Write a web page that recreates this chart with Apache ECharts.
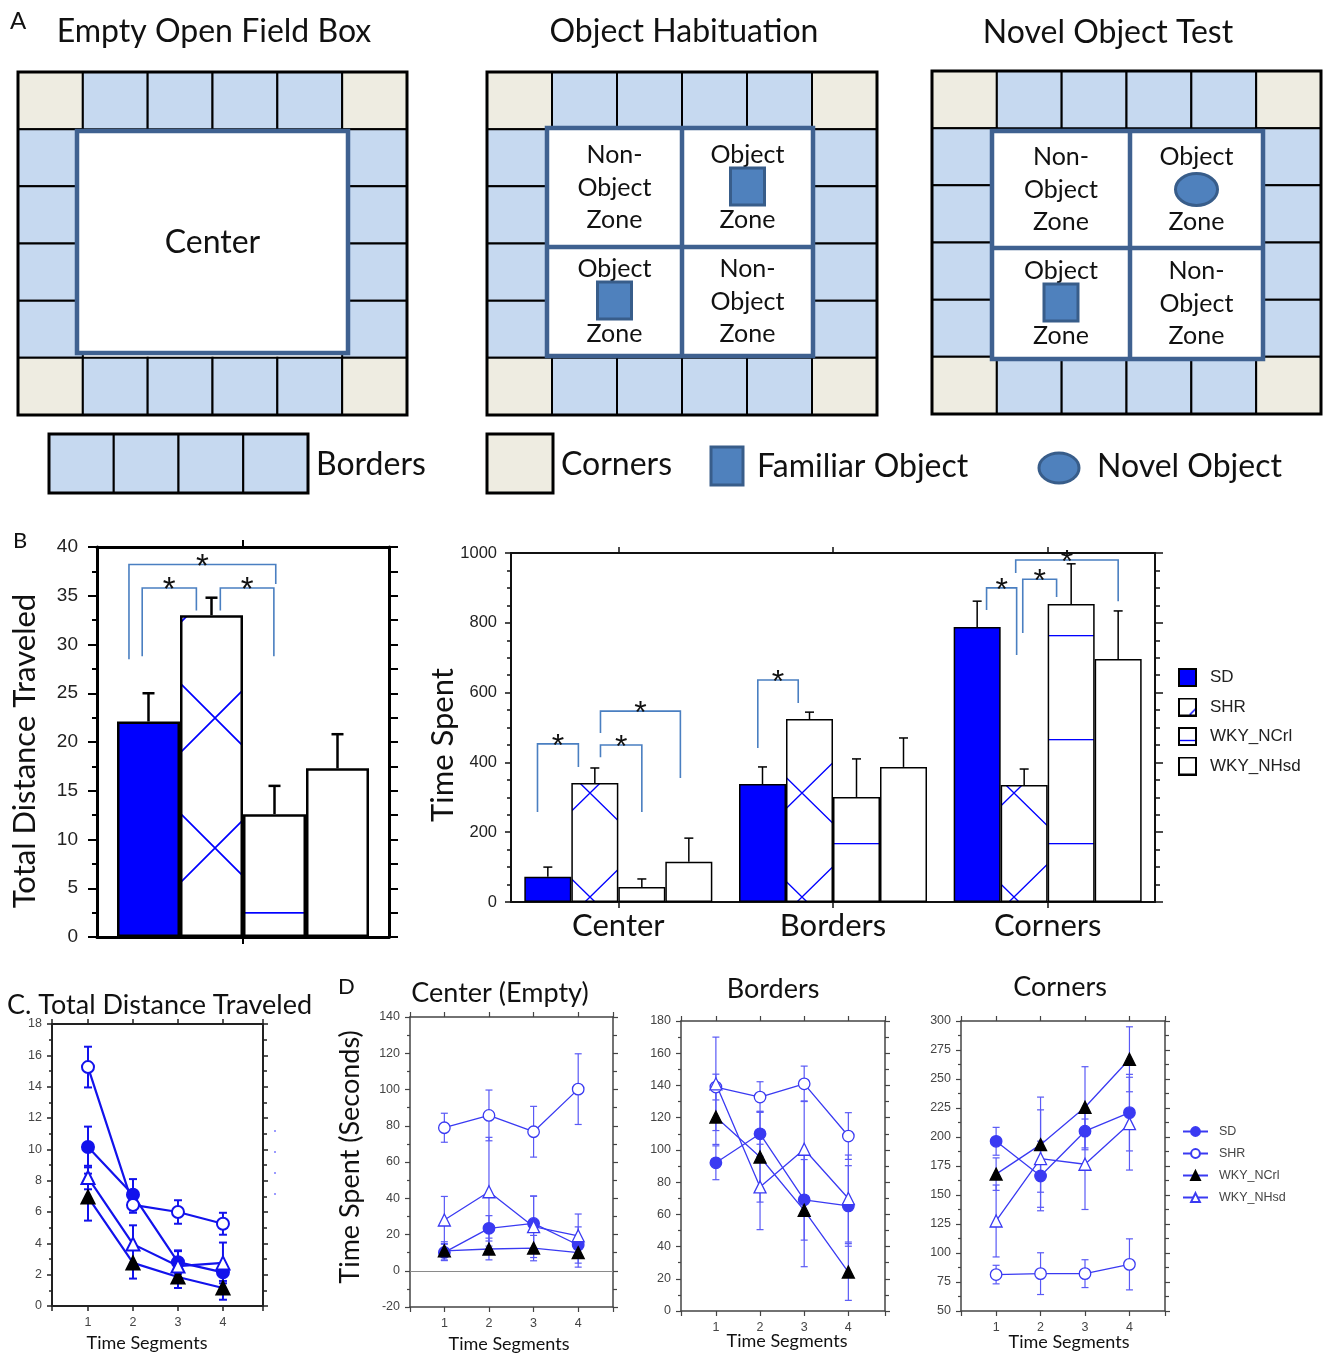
<!DOCTYPE html>
<html>
<head>
<meta charset="utf-8">
<script src="https://cdn.jsdelivr.net/npm/echarts@6/dist/echarts.min.js"></script>
<style>
  html, body { margin: 0; padding: 0; background: #fff; }
  #c { width: 1331px; height: 1353px; }
</style>
</head>
<body>
<div id="c"></div>
<script>
// ---------- data ----------
const groups = ['SD', 'SHR', 'WKY_NCrl', 'WKY_NHsd'];
const zoneCats = ['Center', 'Borders', 'Corners'];
const segments = [1, 2, 3, 4];

// B (left): total distance traveled, mean and SEM per group
const distMean = [22.1, 33.0, 12.6, 17.3];
const distSem = [2.9, 1.8, 2.9, 3.5];

// B (right): time spent per zone (Center, Borders, Corners)
const zoneSD = [72, 338, 788], zoneSDe = [28, 49, 74];
const zoneSHR = [341, 524, 335], zoneSHRe = [43, 20, 46];
const zoneNCrl = [43, 301, 854], zoneNCrle = [23, 109, 115];
const zoneNHsd = [115, 387, 696], zoneNHsde = [68, 83, 138];

// significance brackets: [category, left bar, right bar, left foot, right foot, top]
// bar positions are in bar units (0 = SD bar centre, 3 = WKY_NHsd bar centre)
const distBrackets = [
  [0, -0.31, 2.02, 28.5, 36.2, 38.2],
  [0, -0.10, 0.76, 28.8, 33.5, 35.8],
  [0, 1.14, 1.99, 33.5, 28.8, 35.8]
];
const zoneBrackets = [
  [0, -0.22, 0.65, 258, 387, 453],
  [0, 1.12, 2.00, 415, 258, 450],
  [0, 1.12, 2.82, 484, 355, 547],
  [1, -0.10, 0.76, 441, 570, 636],
  [2, 0.20, 0.84, 837, 708, 900],
  [2, 0.97, 1.69, 771, 874, 925],
  [2, 0.82, 3.00, 943, 862, 980]
];

// C: total distance per time segment
const cSD = [10.15, 7.1, 2.8, 2.15], cSDe = [1.3, 1.0, 0.75, 0.55];
const cSHR = [15.25, 6.45, 6.0, 5.25], cSHRe = [1.3, 0.5, 0.75, 0.7];
const cNCrl = [6.95, 2.75, 1.85, 1.15], cNCrle = [1.5, 1.0, 0.7, 0.75];
const cNHsd = [8.2, 3.95, 2.55, 2.75], cNHsde = [0.75, 1.2, 0.95, 1.3];

// D: time spent per time segment — center
const dcSD = [10.1, 23.4, 26.1, 14.2], dcSDe = [4.5, 7, 15, 10];
const dcSHR = [78.9, 85.7, 76.7, 100.2], dcSHRe = [8, 14, 14, 19.5];
const dcNCrl = [11, 12, 12.5, 10], dcNCrle = [5, 6, 7, 8];
const dcNHsd = [28, 43.6, 24.3, 19.3], dcNHsde = [13, 30, 17, 12];

// D: borders
const dbSD = [92, 110, 69, 65.2], dbSDe = [10.5, 14, 25, 25];
const dbSHR = [139, 132.8, 141, 108.6], dbSHRe = [8, 9.5, 11, 14.5];
const dbNCrl = [120.4, 95.6, 62.5, 24.2], dbNCrle = [17, 28, 35, 17.6];
const dbNHsd = [141, 77, 100.4, 69.8], dbNHsde = [29, 26.5, 30, 27];

// D: corners
const dkSD = [196.3, 166.4, 205, 221], dkSDe = [12, 30, 16, 33];
const dkSHR = [81.4, 82.2, 82.2, 90.2], dkSHRe = [8, 18, 12, 22];
const dkNCrl = [168, 193.4, 225.6, 267], dkNCrle = [14, 41, 35, 28];
const dkNHsd = [127.6, 181.4, 176.5, 211.5], dkNHsde = [31, 42, 39, 40];

// axis ranges [min, max, step]
const distRange = [0, 40, 5];
const zoneRange = [0, 1000, 200];
const cRange = [0, 18, 2];
const dcRange = [-20, 140, 20];
const dbRange = [0, 180, 20];
const dkRange = [50, 300, 25];
// horizontal extent of the time-segment axes
const cSpan = [0.2, 4.89];
const dcSpan = [0.23, 4.78];
const dbSpan = [0.21, 4.83];
const dkSpan = [0.21, 4.8];

// ---------- styling ----------
const BLUE = '#0000ff';
const C_BLUE = '#1212ec';
const D_BLUE = '#3a3af2';
const D_ERR = '#5a5af6';
const BRACKET = '#4a7fc1';
const INK = '#111';
const CELL_BLUE = '#c6d9f0';
const CELL_BEIGE = '#eeece1';
const ZONE_EDGE = '#3f6190';
const OBJ_FILL = '#4f81bd';
const OBJ_EDGE = '#385d8a';
const SANS = 'Liberation Sans';
const HUMAN = 'Lato';
const ZW = '\u200b'; // keeps the line-series legend apart from the bar legend

function crossTile(w, h, color, lw) {
  const c = document.createElement('canvas');
  c.width = w; c.height = h;
  const g = c.getContext('2d');
  g.fillStyle = '#fff'; g.fillRect(0, 0, w, h);
  g.strokeStyle = color; g.lineWidth = lw;
  g.beginPath();
  for (const dx of [-w, 0, w]) for (const dy of [-h, 0, h]) {
    g.moveTo(dx, dy); g.lineTo(dx + w, dy + h);
    g.moveTo(dx + w, dy); g.lineTo(dx, dy + h);
  }
  g.stroke();
  return c;
}
function ruleTile(h, color, lw) {
  const c = document.createElement('canvas');
  c.width = 8; c.height = h;
  const g = c.getContext('2d');
  g.fillStyle = '#fff'; g.fillRect(0, 0, 8, h);
  g.fillStyle = color; g.fillRect(0, 0, 8, lw);
  return c;
}
function swatch(kind) {
  const c = document.createElement('canvas');
  c.width = 19; c.height = 19;
  const g = c.getContext('2d');
  g.fillStyle = kind === 0 ? BLUE : '#fff'; g.fillRect(0, 0, 19, 19);
  g.strokeStyle = BLUE; g.lineWidth = 1.4;
  if (kind === 1) { g.beginPath(); g.moveTo(11, 18); g.lineTo(18, 11); g.stroke(); }
  if (kind === 2) { g.beginPath(); g.moveTo(1, 13.5); g.lineTo(18, 13.5); g.stroke(); }
  g.strokeStyle = '#000'; g.lineWidth = 2; g.strokeRect(1, 1, 17, 17);
  return 'image://' + c.toDataURL();
}

const distFills = [
  BLUE,
  { image: crossTile(130, 130, BLUE, 1.7), repeat: 'repeat', x: 150, y: 653 },
  { image: ruleTile(104, BLUE, 1.7), repeat: 'repeat', x: 0, y: 912 },
  '#fff'
];
const zoneFills = [
  BLUE,
  { image: crossTile(106, 104, BLUE, 1.3), repeat: 'repeat', x: 537, y: 741 },
  { image: ruleTile(104, BLUE, 1.3), repeat: 'repeat', x: 0, y: 843 },
  '#fff'
];

// ---------- builders ----------
const grid = [], xAxis = [], yAxis = [], series = [], graphic = [];

function addGrid(left, top, width, height) {
  grid.push({ left, top, width, height, containLabel: false, outerBoundsMode: 'none' });
  return grid.length - 1;
}
function yPair(gi, range, s) {
  const make = (pos, labels) => ({
    type: 'value', gridIndex: gi, position: pos,
    min: range[0], max: range[1], interval: range[2],
    splitLine: { show: false },
    axisLine: { show: true, onZero: false, lineStyle: { color: s.color, width: s.lw } },
    axisTick: { show: true, inside: false, length: labels ? s.tick : s.tickR, lineStyle: { color: s.color, width: s.tw } },
    minorTick: { show: true, splitNumber: s.minor, length: labels ? s.minorLen : s.minorLenR, lineStyle: { color: s.color, width: s.tw } },
    minorSplitLine: { show: false },
    axisLabel: { show: labels, fontSize: s.fs, color: s.labelColor, margin: s.margin, fontFamily: SANS,
      formatter: (v) => String(v) }
  });
  yAxis.push(make('left', true), make('right', false));
  return yAxis.length - 2;
}
function xSegPair(gi, span, s) {
  const make = (pos, labels) => ({
    type: 'value', gridIndex: gi, position: pos, min: span[0], max: span[1], splitNumber: 4,
    splitLine: { show: false },
    axisLine: { show: true, onZero: false, lineStyle: { color: s.color, width: s.lw } },
    axisTick: { show: true, length: s.tick, lineStyle: { color: s.color, width: s.tw } },
    axisLabel: {
      show: labels, fontSize: s.fs, color: s.labelColor, margin: s.margin, fontFamily: SANS,
      formatter: (v) => (Number.isInteger(v) ? String(v) : '')
    }
  });
  xAxis.push(make('bottom', true), make('top', false));
  return xAxis.length - 2;
}
function xCatPair(gi, cats, s) {
  const make = (pos, labels) => ({
    type: 'category', gridIndex: gi, position: pos, data: cats,
    axisLine: { show: true, onZero: false, lineStyle: { color: s.color, width: s.lw } },
    axisTick: { show: true, alignWithLabel: true, length: s.tick, lineStyle: { color: s.color, width: s.tw } },
    axisLabel: { show: labels && s.labels, fontSize: s.fs, color: s.labelColor, margin: s.margin, fontFamily: HUMAN },
    splitLine: { show: false }
  });
  xAxis.push(make('bottom', true), make('top', false));
  return xAxis.length - 2;
}

function barErrors(xi, yi, means, sems, barW, cap, lw) {
  const data = [];
  means.forEach((row, g) => row.forEach((v, c) => data.push([c, g, v, sems[g][c]])));
  return {
    type: 'custom', xAxisIndex: xi, yAxisIndex: yi, silent: true, clip: false, z: 4,
    encode: { x: 0, y: 2 }, data,
    renderItem(params, api) {
      const c = api.value(0), g = api.value(1), v = api.value(2), e = api.value(3);
      const cx = api.coord([c, 0])[0] + (g - 1.5) * barW;
      const y0 = api.coord([c, v])[1], y1 = api.coord([c, v + e])[1];
      const st = { stroke: '#000', lineWidth: lw };
      return { type: 'group', children: [
        { type: 'line', shape: { x1: cx, y1: y0, x2: cx, y2: y1 }, style: st },
        { type: 'line', shape: { x1: cx - cap, y1: y1, x2: cx + cap, y2: y1 }, style: st }
      ] };
    }
  };
}
function brackets(xi, yi, rows, barW, fs) {
  return {
    type: 'custom', xAxisIndex: xi, yAxisIndex: yi, silent: true, clip: false, z: 5,
    encode: { x: 0, y: 5 }, data: rows,
    renderItem(params, api) {
      const cat = api.value(0);
      const c = api.coord([cat, 0])[0];
      const px = (b) => c + (b - 1.5) * barW;
      const py = (v) => api.coord([cat, v])[1];
      const xl = px(api.value(1)), xr = px(api.value(2));
      const yl = py(api.value(3)), yr = py(api.value(4)), yt = py(api.value(5));
      return { type: 'group', children: [
        { type: 'polyline', shape: { points: [[xl, yl], [xl, yt], [xr, yt], [xr, yr]] },
          style: { stroke: BRACKET, lineWidth: 1.6, fill: null } },
        { type: 'text', x: (xl + xr) / 2, y: yt + 3,
          style: { text: '*', fontSize: fs, fontFamily: SANS, fill: INK, textAlign: 'center', textVerticalAlign: 'middle' } }
      ] };
    }
  };
}

const markers = [
  { shape: 'circle', fill: (c) => c, edge: (c) => c },
  { shape: 'circle', fill: () => '#fff', edge: (c) => c },
  { shape: 'triangle', fill: () => '#000', edge: () => '#000' },
  { shape: 'triangle', fill: () => '#fff', edge: (c) => c }
];
function segPanel(xi, yi, means, sems, s, suffix, zeroLine) {
  means.forEach((m, g) => {
    series.push({
      type: 'custom', xAxisIndex: xi, yAxisIndex: yi, silent: true, clip: false, z: 2,
      encode: { x: 0, y: 1 },
      data: segments.map((t, k) => [t, m[k], sems[g][k]]),
      renderItem(params, api) {
        const x = api.value(0), v = api.value(1), e = api.value(2);
        const hi = api.coord([x, v + e]), lo = api.coord([x, v - e]);
        const st = { stroke: s.err, lineWidth: s.errW };
        return { type: 'group', children: [
          { type: 'line', shape: { x1: hi[0], y1: hi[1], x2: lo[0], y2: lo[1] }, style: st },
          { type: 'line', shape: { x1: hi[0] - s.cap, y1: hi[1], x2: hi[0] + s.cap, y2: hi[1] }, style: st },
          { type: 'line', shape: { x1: lo[0] - s.cap, y1: lo[1], x2: lo[0] + s.cap, y2: lo[1] }, style: st }
        ] };
      }
    });
  });
  means.forEach((m, g) => {
    const mk = markers[g];
    const item = {
      type: 'line', name: groups[g] + suffix, xAxisIndex: xi, yAxisIndex: yi, silent: true, z: 3,
      data: segments.map((t, k) => [t, m[k]]),
      symbol: mk.shape, symbolSize: mk.shape === 'triangle' ? s.tri : s.circ,
      lineStyle: { color: s.line, width: s.lw },
      itemStyle: { color: mk.fill(s.line), borderColor: mk.edge(s.line), borderWidth: s.bw }
    };
    if (zeroLine && g === 0) {
      item.markLine = {
        silent: true, symbol: 'none', label: { show: false },
        lineStyle: { color: '#8a8a8a', width: 1, type: 'solid' },
        data: [{ yAxis: 0 }]
      };
    }
    series.push(item);
  });
}

// ---------- graphic helpers (panel A schematics and titles) ----------
function txt(x, y, s, size, o = {}) {
  graphic.push({
    type: 'text', x, y, rotation: o.rot || 0, silent: true,
    style: { text: s, fontSize: size, fontFamily: o.family || HUMAN, fill: o.color || INK,
      textAlign: o.align || 'center', textVerticalAlign: 'middle' }
  });
}
function rect(x, y, w, h, fill, stroke, lw) {
  graphic.push({ type: 'rect', silent: true, shape: { x, y, width: w, height: h },
    style: { fill: fill || 'none', stroke, lineWidth: lw } });
}
function seg(x1, y1, x2, y2, stroke, lw) {
  graphic.push({ type: 'line', silent: true, shape: { x1, y1, x2, y2 }, style: { stroke, lineWidth: lw } });
}
function arena(x0, y0, w, h, inner, split) {
  const cw = w / 6, ch = h / 6;
  for (let r = 0; r < 6; r++) for (let c = 0; c < 6; c++) {
    const edgeRow = r === 0 || r === 5, edgeCol = c === 0 || c === 5;
    if (!edgeRow && !edgeCol) continue;
    rect(x0 + c * cw, y0 + r * ch, cw, ch, edgeRow && edgeCol ? CELL_BEIGE : CELL_BLUE, '#000', 2);
  }
  rect(x0, y0, w, h, null, '#000', 3);
  const ix = x0 + inner[0], iy = y0 + inner[1], iw = inner[2], ih = inner[3];
  rect(ix, iy, iw, ih, '#fff', ZONE_EDGE, 4.5);
  const out = { ix, iy, iw, ih };
  if (split) {
    out.sx = x0 + split[0]; out.sy = y0 + split[1];
    seg(out.sx, iy, out.sx, iy + ih, ZONE_EDGE, 4.5);
    seg(ix, out.sy, ix + iw, out.sy, ZONE_EDGE, 4.5);
  }
  return out;
}
function familiar(cx, cy, w, h) {
  graphic.push({ type: 'rect', silent: true, shape: { x: cx - w / 2, y: cy - h / 2, width: w, height: h },
    style: { fill: OBJ_FILL, stroke: OBJ_EDGE, lineWidth: 3 } });
}
function novel(cx, cy, rx, ry) {
  graphic.push({ type: 'ellipse', silent: true, shape: { cx, cy, rx, ry },
    style: { fill: OBJ_FILL, stroke: OBJ_EDGE, lineWidth: 3 } });
}
function zone(cx, cy, kind) {
  const fs = 25;
  if (kind === 'none') {
    txt(cx, cy - 33, 'Non-', fs); txt(cx, cy, 'Object', fs); txt(cx, cy + 32, 'Zone', fs);
  } else {
    txt(cx, cy - 33, 'Object', fs);
    if (kind === 'familiar') familiar(cx, cy - 1, 34, 37); else novel(cx, cy, 21, 16);
    txt(cx, cy + 32, 'Zone', fs);
  }
}
function quads(a, kinds) {
  const xl = (a.ix + a.sx) / 2, xr = (a.sx + a.ix + a.iw) / 2;
  const yt = (a.iy + a.sy) / 2, yb = (a.sy + a.iy + a.ih) / 2;
  zone(xl, yt, kinds[0]); zone(xr, yt, kinds[1]); zone(xl, yb, kinds[2]); zone(xr, yb, kinds[3]);
}

// ---------- panel A ----------
txt(10, 21, 'A', 24, { align: 'left' });
txt(214, 32, 'Empty Open Field Box', 32);
txt(684, 32, 'Object Habituation', 32);
txt(1108, 33, 'Novel Object Test', 32);

const boxEmpty = arena(18, 72, 389, 343, [59, 59, 271, 222]);
txt(boxEmpty.ix + boxEmpty.iw / 2, boxEmpty.iy + boxEmpty.ih / 2 + 1, 'Center', 32);
const boxHab = arena(487, 72, 390, 343, [60, 56, 266, 228], [195, 175]);
quads(boxHab, ['none', 'familiar', 'familiar', 'none']);
const boxTest = arena(932, 71, 389, 343, [60, 60, 271, 228], [198, 177]);
quads(boxTest, ['none', 'novel', 'familiar', 'none']);

// key row
for (let i = 0; i < 4; i++) rect(49 + i * 64.75, 434, 64.75, 59, CELL_BLUE, '#000', 2);
rect(49, 434, 259, 59, null, '#000', 3);
txt(316, 465, 'Borders', 32, { align: 'left' });
rect(487, 434, 66, 59, CELL_BEIGE, '#000', 3);
txt(561, 465, 'Corners', 32, { align: 'left' });
familiar(727, 466, 32, 38);
txt(757, 467, 'Familiar Object', 32, { align: 'left' });
novel(1059, 468, 20, 15);
txt(1097, 467, 'Novel Object', 32, { align: 'left' });

// ---------- panel B ----------
txt(13, 541, 'B', 22, { align: 'left' });
txt(25, 751, 'Total Distance Traveled', 31, { rot: Math.PI / 2 });
txt(443, 745, 'Time Spent', 31, { rot: Math.PI / 2 });

const gDist = addGrid(97, 547, 292, 390);
const bDistStyle = { color: '#000', lw: 3, tw: 2, tick: 9, tickR: 9, minor: 2, minorLen: 5, minorLenR: 9, fs: 19, labelColor: '#222', margin: 19 };
const xDist = xCatPair(gDist, ['Total'], { color: '#000', lw: 3, tw: 2, tick: 7, labels: false });
const yDist = yPair(gDist, distRange, bDistStyle);
groups.forEach((g, i) => series.push({
  type: 'bar', name: g, xAxisIndex: xDist, yAxisIndex: yDist, silent: true, z: 2,
  data: [distMean[i]], barWidth: 63, barGap: '0%',
  itemStyle: { color: distFills[i], borderColor: '#000', borderWidth: 2.5 }
}));
series.push(barErrors(xDist, yDist, distMean.map((v) => [v]), distSem.map((v) => [v]), 63, 6, 2.5));
series.push(brackets(xDist, yDist, distBrackets, 63, 33));

const gZone = addGrid(511, 553, 644, 349);
const xZone = xCatPair(gZone, zoneCats, { color: '#111', lw: 2, tw: 1.5, tick: 6, labels: true, fs: 31, labelColor: '#111', margin: 8 });
const yZone = yPair(gZone, zoneRange, { color: '#111', lw: 2, tw: 1.5, tick: 6, tickR: 8, minor: 4, minorLen: 4, minorLenR: 5, fs: 16.5, labelColor: '#222', margin: 14 });
const zoneMeans = [zoneSD, zoneSHR, zoneNCrl, zoneNHsd];
const zoneSems = [zoneSDe, zoneSHRe, zoneNCrle, zoneNHsde];
groups.forEach((g, i) => series.push({
  type: 'bar', name: g, xAxisIndex: xZone, yAxisIndex: yZone, silent: true, z: 2,
  data: zoneMeans[i], barWidth: 47, barGap: '0%',
  itemStyle: { color: zoneFills[i], borderColor: '#000', borderWidth: 1.5 }
}));
series.push(barErrors(xZone, yZone, zoneMeans, zoneSems, 47, 4.5, 1.5));
series.push(brackets(xZone, yZone, zoneBrackets, 47, 32));

// ---------- panel C ----------
txt(7, 1005, 'C. Total Distance Traveled', 27, { align: 'left' });
txt(147, 1343, 'Time Segments', 18);
const gC = addGrid(52, 1024, 211, 282);
const cAxis = { color: '#222', lw: 2, tw: 1.5, tick: 5, tickR: 5, minor: 2, minorLen: 3, minorLenR: 4, fs: 12.5, labelColor: '#444', margin: 10 };
const xC = xSegPair(gC, cSpan, cAxis);
const yC = yPair(gC, cRange, cAxis);
segPanel(xC, yC, [cSD, cSHR, cNCrl, cNHsd], [cSDe, cSHRe, cNCrle, cNHsde],
  { line: C_BLUE, lw: 2.2, err: C_BLUE, errW: 2, cap: 4, circ: 12, tri: 13, bw: 2 }, '', false);
[1131, 1152, 1173, 1194].forEach((y) => graphic.push({ type: 'circle', silent: true,
  shape: { cx: 275, cy: y, r: 1 }, style: { fill: '#7a7aff' } }));

// ---------- panel D ----------
txt(338, 987, 'D', 22, { align: 'left' });
txt(350, 1157, 'Time Spent (Seconds)', 27, { rot: Math.PI / 2 });
txt(500, 993, 'Center (Empty)', 27);
txt(773, 989, 'Borders', 27);
txt(1060, 987, 'Corners', 27);
txt(509, 1344, 'Time Segments', 18);
txt(787, 1341, 'Time Segments', 18);
txt(1069, 1342, 'Time Segments', 18);

const dAxis = { color: '#444', lw: 1.5, tw: 1.2, tick: 5, tickR: 5, minor: 2, minorLen: 3, minorLenR: 4, fs: 12.5, labelColor: '#444', margin: 10 };
const dLines = { line: D_BLUE, lw: 1.3, err: D_ERR, errW: 1.2, cap: 3.5, circ: 11.5, tri: 12, bw: 1.3 };

const gDc = addGrid(410, 1017, 203, 290);
const xDc = xSegPair(gDc, dcSpan, dAxis);
const yDc = yPair(gDc, dcRange, dAxis);
segPanel(xDc, yDc, [dcSD, dcSHR, dcNCrl, dcNHsd], [dcSDe, dcSHRe, dcNCrle, dcNHsde], dLines, '', true);

const gDb = addGrid(681, 1021, 204, 290);
const xDb = xSegPair(gDb, dbSpan, dAxis);
const yDb = yPair(gDb, dbRange, dAxis);
segPanel(xDb, yDb, [dbSD, dbSHR, dbNCrl, dbNHsd], [dbSDe, dbSHRe, dbNCrle, dbNHsde], dLines, '', false);

const gDk = addGrid(961, 1021, 204, 290);
const xDk = xSegPair(gDk, dkSpan, dAxis);
const yDk = yPair(gDk, dkRange, dAxis);
segPanel(xDk, yDk, [dkSD, dkSHR, dkNCrl, dkNHsd], [dkSDe, dkSHRe, dkNCrle, dkNHsde], dLines, ZW, false);

// ---------- chart ----------
const chart = echarts.init(document.getElementById('c'), null, { renderer: 'canvas' });
chart.setOption({
  animation: false,
  backgroundColor: '#fff',
  textStyle: { fontFamily: SANS },
  grid, xAxis, yAxis, series, graphic,
  legend: [
    {
      orient: 'vertical', left: 1178, top: 668, padding: 0, itemWidth: 19, itemHeight: 19, itemGap: 10.5,
      selectedMode: false,
      textStyle: { fontSize: 17, color: '#222', fontFamily: SANS, padding: [0, 0, 0, 8] },
      data: groups.map((g, i) => ({ name: g, icon: swatch(i) }))
    },
    {
      orient: 'vertical', left: 1182, top: 1125, padding: 0, itemWidth: 25, itemHeight: 11, itemGap: 9,
      selectedMode: false,
      textStyle: { fontSize: 12.5, color: '#444', fontFamily: SANS, padding: [0, 0, 0, 6] },
      data: groups.map((g) => g + ZW)
    }
  ]
});
</script>
</body>
</html>
